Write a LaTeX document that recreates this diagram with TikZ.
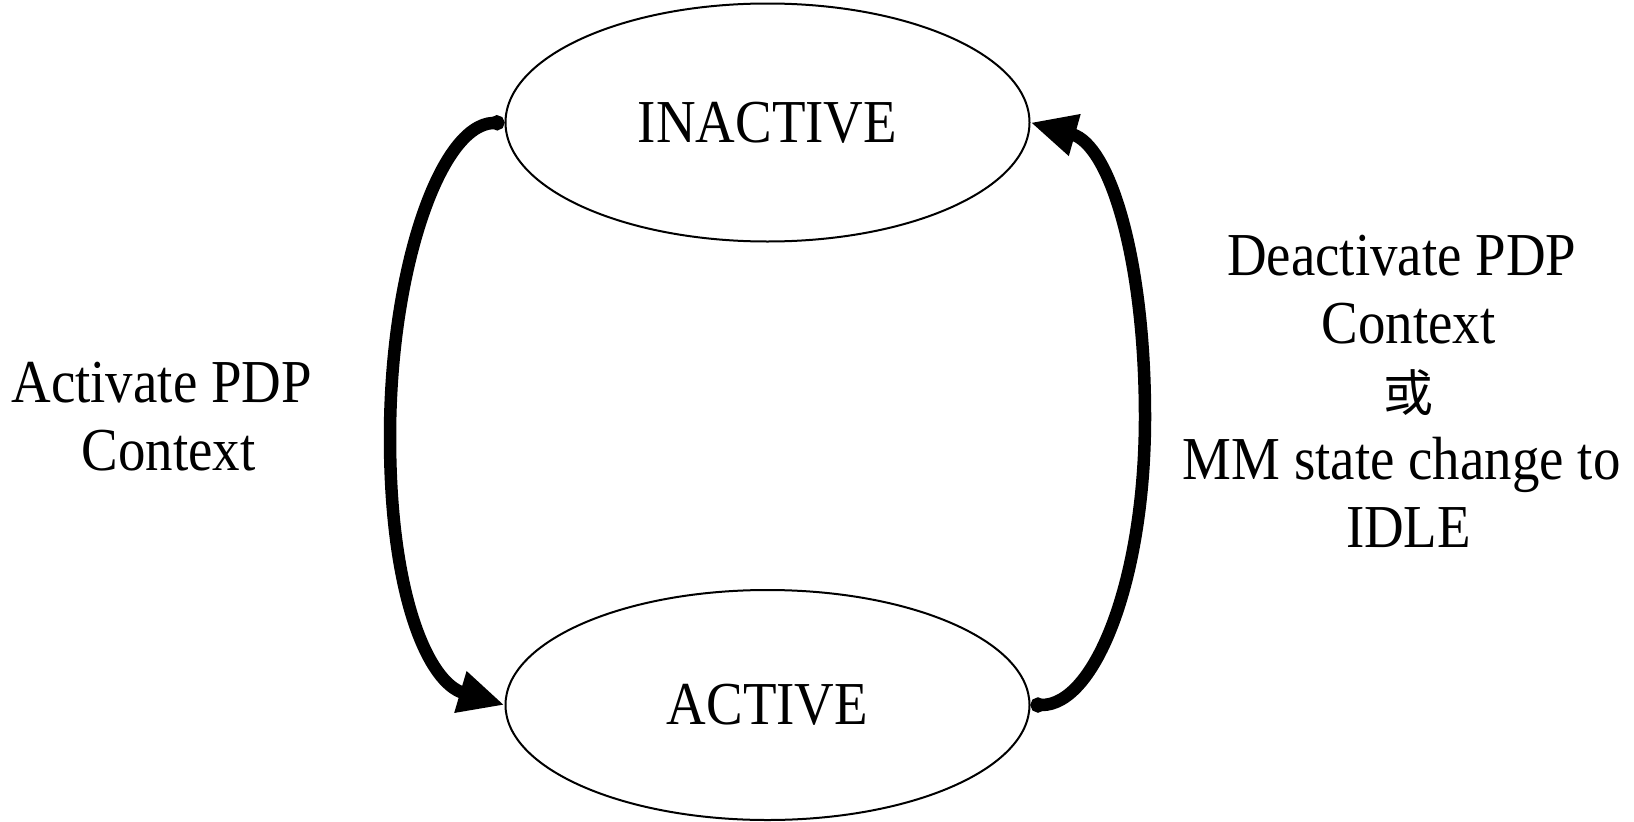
\documentclass[tikz,border=0pt]{standalone}
\usepackage{fontspec}
\setmainfont{Liberation Serif}[FakeStretch=0.9]
\newfontfamily\cjk{Noto Sans CJK TC}
\usetikzlibrary{shapes.geometric,arrows.meta}
\begin{document}
\begin{tikzpicture}[x=1pt,y=-1pt,
  state/.style={draw,ellipse,line width=2pt,minimum width=524pt,minimum height=238pt,inner sep=0pt,font=\fontsize{61}{68}\selectfont},
  lbl/.style={align=center,inner sep=0pt,font=\fontsize{61}{68}\selectfont},
  flow/.style={line width=12.5pt,line cap=round,{Circle[length=15pt]}-{Triangle[length=46pt,width=40pt]}}]
\fill[white] (0,0) rectangle (1634,822);
\useasboundingbox (0,0) rectangle (1634,822);
\node[state] (top) at (767.5,122.5) {INACTIVE};
\node[state,minimum height=230pt] (bot) at (767.5,705) {ACTIVE};
\coordinate (lm) at (390,437);
\coordinate (rm) at (1145,417);
\draw[flow] (top.west) .. controls (440,125) and (390,270) .. (lm)
  .. controls (390,600) and (430,683) .. (bot.west);
\draw[flow] (bot.east) .. controls (1095,705) and (1145,580) .. (rm)
  .. controls (1145,260) and (1110,145) .. (top.east);
\node[lbl] (la) at (168.5,417) {Activate PDP\kern13.7pt\\Context};
\node[lbl] (ld) at (1408.5,391) {Deactivate PDP\kern13.7pt\\Context\\{\cjk\fontsize{50}{68}\selectfont 或}\\MM state change to\kern13.7pt\\IDLE};
\end{tikzpicture}
\end{document}
